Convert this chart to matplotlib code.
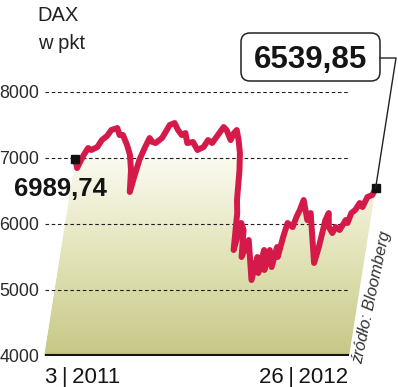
import numpy as np
import matplotlib
matplotlib.use("Agg")
import matplotlib.pyplot as plt
from matplotlib.transforms import Affine2D
from matplotlib.patches import Polygon, FancyBboxPatch
from matplotlib.colors import LinearSegmentedColormap
from matplotlib.lines import Line2D

# ---- data (trading-day index from 3 Jan 2011, DAX close in points) ----
days = [0, 3, 7, 10, 13, 18, 21, 25, 28, 33, 36, 39, 44, 48, 51, 53, 55, 57, 60, 63,
        66, 69, 74, 79, 83, 87, 91, 94, 97, 102, 107, 112, 115, 119, 123, 127, 130, 135, 137, 139,
        142, 145, 147, 149, 151, 153, 156, 159, 161, 165, 169, 173, 175, 178, 180, 183, 185, 189, 191, 193,
        195, 197, 202, 204, 206, 208, 214, 216, 222, 226, 228, 230, 232, 234, 238, 240, 244, 248, 250, 252,
        255, 258, 261, 264, 268, 270]
values = [6990, 6848, 7045, 7151, 7121, 7166, 7272, 7333, 7424, 7454,
          7348, 7348, 7197, 7045, 6818, 6485, 6742, 6970, 7151, 7303,
          7242, 7227, 7303, 7500, 7530, 7424, 7348, 7378, 7227, 7242,
          7121, 7166, 7272, 7227, 7348, 7469, 7424, 7272, 7378, 7424,
          7272, 7075, 6818, 6363, 6166, 5606, 6015, 5909, 5500, 5757,
          5454, 5151, 5500, 5257, 5606, 5303, 5606, 5348, 5651, 5500,
          5803, 6015, 5954, 6106, 6212, 6363, 6060, 6166, 5712, 5409,
          5651, 6060, 6166, 5954, 5863, 5954, 5909, 6060, 6015, 6166,
          6212, 6318, 6257, 6409, 6439, 6540]
y_ticks = [4000, 5000, 6000, 7000, 8000]
grid_levels = [5000, 6000, 7000, 8000]
start_label = "6989,74"
end_label = "6539,85"
date_start = "3\u2009|\u20092011"
date_end = "26\u2009|\u20092012"
title = "DAX"
unit = "w pkt"
source = "źródło: Bloomberg"
fill_cap = 7000

W, H = 398, 387
fig = plt.figure(figsize=(W / 100, H / 100), dpi=100)
fig.patch.set_facecolor("white")

def fx(px):
    return px / W

def fy(py):
    return (H - py) / H

reg = ["Liberation Sans", "DejaVu Sans"]

ax = fig.add_axes([fx(45), fy(356), fx(350) - fx(45), fy(92) - fy(356)])
ax.set_xlim(0.9, 270.8)
ax.set_ylim(4000, 8000)
for s in ax.spines.values():
    s.set_visible(False)
ax.set_xticks([])
ax.set_yticks(y_ticks)
ax.set_yticklabels([str(v) for v in y_ticks])
ax.tick_params(axis="y", length=0, pad=4, labelsize=12.8, labelcolor="#2a2a2a")
for lab in ax.get_yticklabels():
    lab.set_family(reg)
ax.set_facecolor("none")

# shear (perspective) transform in display space
ybase = ax.transData.transform((0, 4000))[1]
shear = Affine2D().translate(0, -ybase).skew(np.arctan(0.158), 0).translate(0, ybase)
T = ax.transData + shear

# gradient fill under the curve, capped at 7000
d = np.array(days, float)
v = np.array(values, float)
top = np.minimum(v, fill_cap)
verts = list(zip(d, top)) + [(d[-1], 4000), (d[0], 4000)]
poly = Polygon(verts, closed=True, transform=T, fc="none", ec="none")
ax.add_patch(poly)
cmap = LinearSegmentedColormap.from_list("g", ["#c6c886", "#e2e3b8", "#fbfaf0"])
grad = np.linspace(0, 1, 256).reshape(-1, 1)
im = ax.imshow(grad, extent=(d[0], d[-1], 4000, fill_cap), origin="lower", aspect="auto",
               cmap=cmap, transform=T, zorder=1, interpolation="bilinear")
im.set_clip_path(poly)
im.set_clip_box(fig.bbox)
ax.set_xlim(0.9, 270.8)
ax.set_ylim(4000, 8000)

# gridlines and baseline
ax.hlines(grid_levels, 0.9, 269.5, colors="#1e1e1e", linestyles=(0, (3.2, 2.4)), lw=0.8, zorder=2)
ax.hlines(4000, 0.9, 269.5, colors="#151515", lw=3, zorder=3)

# curve
ax.plot(d, v, color="#d41a48", lw=4.3, solid_joinstyle="round", solid_capstyle="butt",
        transform=T, clip_on=False, zorder=5)

# markers
ax.plot([d[0]], [v[0]], marker="s", ms=5.5, color="#111111", transform=T, clip_on=False, zorder=6,
        linestyle="none")
ax.plot([d[-1]], [v[-1]], marker="s", ms=5.5, color="#111111", transform=T, clip_on=False, zorder=6,
        linestyle="none")

fig.text(fx(37), fy(21), title, fontsize=14.5, color="#222222", family=reg, va="baseline")
fig.text(fx(38), fy(49), unit, fontsize=14.5, color="#222222", family=reg, va="baseline")

fig.text(fx(14), fy(196), start_label, fontsize=18.5, fontweight="bold", color="#151515",
         family=reg, va="baseline", ha="left")

# rounded label box for the end value
box = FancyBboxPatch((241, H - 81), 139, 48, boxstyle="round,pad=0,rounding_size=9",
                     transform=None, fc="white", ec="#222222", lw=1.1)
fig.add_artist(box)
fig.text(fx(310.5), fy(68), end_label, fontsize=22.5, fontweight="bold", color="#151515",
         family=reg, va="baseline", ha="center")

# connector from label box to end marker
end_px = T.transform((d[-1], v[-1]))
fig.add_artist(Line2D([380, 396, end_px[0]], [H - 58, H - 58, end_px[1]],
                      transform=None, color="#222222", lw=1.0))

fig.text(fx(45), fy(383), date_start, fontsize=16, color="#151515", family=reg,
         va="baseline", ha="left")
fig.text(fx(348), fy(383), date_end, fontsize=16, color="#151515", family=reg,
         va="baseline", ha="right")

fig.text(fx(372), fy(297), source, fontsize=12, color="#333333", family=reg, style="italic",
         rotation=78, rotation_mode="anchor", va="center", ha="center")

fig.savefig("out.png", dpi=100, facecolor="white")
